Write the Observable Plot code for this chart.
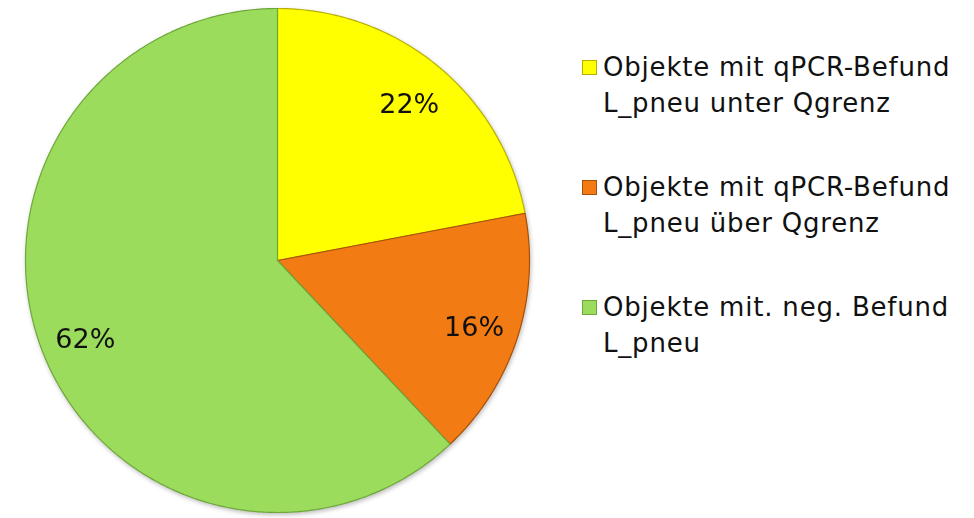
<!DOCTYPE html>
<html>
<head>
<meta charset="utf-8">
<script src="https://cdn.jsdelivr.net/npm/d3@7"></script>
<script src="https://cdn.jsdelivr.net/npm/@observablehq/plot@0.6"></script>
<style>
  html, body { margin: 0; padding: 0; background: #fff; }
  #wrap { position: relative; width: 974px; height: 518px; overflow: hidden; }
  #legend { position: absolute; left: 0; top: 0; font-family: "DejaVu Sans", Verdana, sans-serif; font-size: 26px; letter-spacing: 0.8px; color: #111; }
  .item { position: absolute; left: 582px; width: 390px; line-height: 35.5px; }
  .swatch { position: absolute; left: 0; top: 10px; width: 15px; height: 15px; box-sizing: border-box; }
  .txt { position: absolute; left: 21px; top: 0; white-space: nowrap; }
</style>
</head>
<body>
<div id="wrap"></div>
<script>
const categories = ["unter Qgrenz", "über Qgrenz", "neg. Befund"];
const values = [22, 16, 62];
const valueLabels = ["22%", "16%", "62%"];
const colors = ["#FFFF00", "#F27B13", "#9CDC5C"];
const edgeColors = ["#B8B000", "#A8500A", "#6FA83A"];
const legendLine1 = ["Objekte mit qPCR-Befund", "Objekte mit qPCR-Befund", "Objekte mit. neg. Befund"];
const legendLine2 = ["L_pneu unter Qgrenz", "L_pneu über Qgrenz", "L_pneu"];

const arcs = d3.pie().sort(null).value(d => d)(values);

// slice outlines (derived from the pie angles)
const pts = [];
arcs.forEach((a, i) => {
  const cat = categories[i];
  pts.push({cat, x: 0, y: 0});
  const n = Math.max(2, Math.ceil((a.endAngle - a.startAngle) / 0.01));
  for (let k = 0; k <= n; k++) {
    const t = a.startAngle + (a.endAngle - a.startAngle) * k / n;
    pts.push({cat, x: Math.sin(t), y: Math.cos(t)});
  }
  pts.push({cat, x: 0, y: 0});
});

const labelData = arcs.map((a, i) => {
  const m = (a.startAngle + a.endAngle) / 2;
  return {label: valueLabels[i], x: 0.82 * Math.sin(m), y: 0.82 * Math.cos(m)};
});

const chart = Plot.plot({
  width: 974,
  height: 518,
  marginLeft: 25,
  marginRight: 445,
  marginTop: 8,
  marginBottom: 6,
  x: {domain: [-1, 1], axis: null},
  y: {domain: [-1, 1], axis: null},
  color: {domain: categories, range: colors},
  marks: [
    Plot.line(pts, {x: "x", y: "y", z: "cat", fill: "cat", stroke: "cat", strokeWidth: 1.2, curve: "linear"}),
    Plot.text(labelData, {x: "x", y: "y", text: "label", fontSize: 27, dy: 3, fill: "#111", fontFamily: "DejaVu Sans, Verdana, sans-serif"})
  ]
});
chart.style.position = "absolute";
chart.style.left = "0px";
chart.style.top = "0px";
chart.style.filter = "drop-shadow(1px 2px 2px rgba(0,0,0,0.25))";
// darker edges per slice
chart.querySelectorAll("g[aria-label='line'] path").forEach((p, i) => {
  p.setAttribute("stroke", edgeColors[i]);
});
document.getElementById("wrap").appendChild(chart);

const legend = document.createElement("div");
legend.id = "legend";
const tops = [50, 170, 290];
categories.forEach((c, i) => {
  const item = document.createElement("div");
  item.className = "item";
  item.style.top = tops[i] + "px";
  const sw = document.createElement("div");
  sw.className = "swatch";
  sw.style.background = colors[i];
  sw.style.border = "1px solid " + edgeColors[i];
  const tx = document.createElement("div");
  tx.className = "txt";
  tx.innerHTML = legendLine1[i] + "<br>" + legendLine2[i];
  item.appendChild(sw);
  item.appendChild(tx);
  legend.appendChild(item);
});
document.getElementById("wrap").appendChild(legend);
</script>
</body>
</html>
